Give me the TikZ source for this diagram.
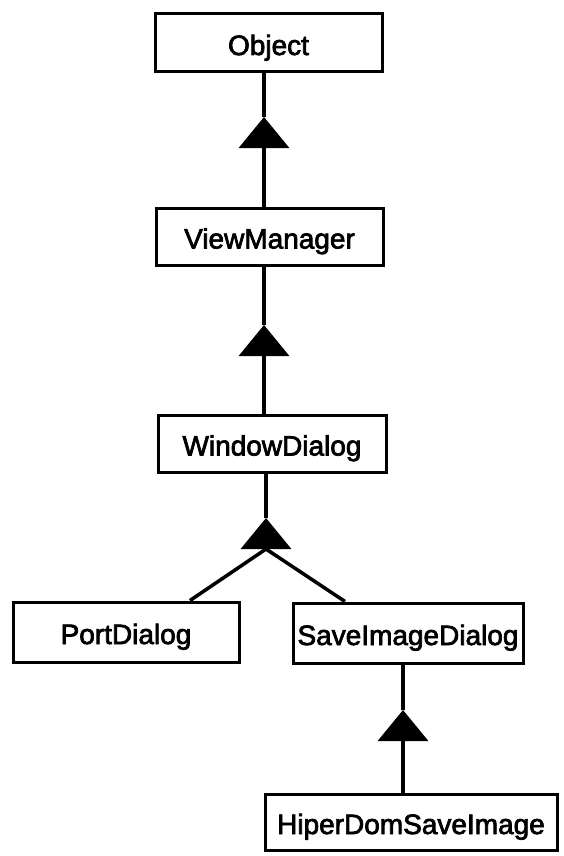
\documentclass[tikz,border=0pt]{standalone}
\usepackage{fontspec}
\newfontfamily\lblfont{Liberation Sans}[FakeBold=2.5]
\usetikzlibrary{arrows.meta}

\tikzset{
  classbox/.style={draw, line width=3pt, inner sep=0pt, align=center,
    font=\lblfont\fontsize{28}{30}\selectfont,
    text height=24pt, text depth=0pt},
  link/.style={line width=3.5pt},
  inherit/.style={link, -{Triangle[width=50pt 0 0, length=31pt 0 0]}},
}

\begin{document}
\begin{tikzpicture}[x=1pt, y=-1pt]
  \useasboundingbox (0,0) rectangle (563,856);

  % class boxes
  \node[classbox, minimum width=227pt, minimum height=58pt] (obj) at (268.5,43)  {Object};
  \node[classbox, minimum width=227pt, minimum height=57pt] (vm)  at (269.5,236.5) {ViewManager};
  \node[classbox, minimum width=228pt, minimum height=57pt] (wd)  at (272,443.5) {WindowDialog};
  \node[classbox, minimum width=226pt, minimum height=60pt] (pd)  at (126,632)   {PortDialog};
  \node[classbox, minimum width=230pt, minimum height=60pt] (sid) at (408,633)   {SaveImageDialog};
  \node[classbox, minimum width=292pt, minimum height=56pt] (hd)  at (411,822)   {HiperDomSaveImage};

  % apex and base of each inheritance triangle
  \coordinate (a1) at (264,117);  \coordinate (b1) at (264,148);
  \coordinate (a2) at (264,325);  \coordinate (b2) at (264,356);
  \coordinate (a3) at (266,518);  \coordinate (b3) at (266,549);
  \coordinate (a4) at (403,710);  \coordinate (b4) at (403,741);

  % ViewManager -> Object
  \draw[link] (obj.south -| a1) -- (a1);
  \draw[inherit] (vm.north -| a1) -- (a1);

  % WindowDialog -> ViewManager
  \draw[link] (vm.south -| a2) -- (a2);
  \draw[inherit] (wd.north -| a2) -- (a2);

  % PortDialog, SaveImageDialog -> WindowDialog
  \draw[link] (wd.south -| a3) -- (a3);
  \draw[inherit] (b3) -- (a3);
  \draw[link] ([xshift=64pt]pd.north) -- (b3);
  \draw[link] ([xshift=-63pt]sid.north) -- (b3);

  % HiperDomSaveImage -> SaveImageDialog
  \draw[link] (sid.south -| a4) -- (a4);
  \draw[inherit] (hd.north -| a4) -- (a4);
\end{tikzpicture}
\end{document}
